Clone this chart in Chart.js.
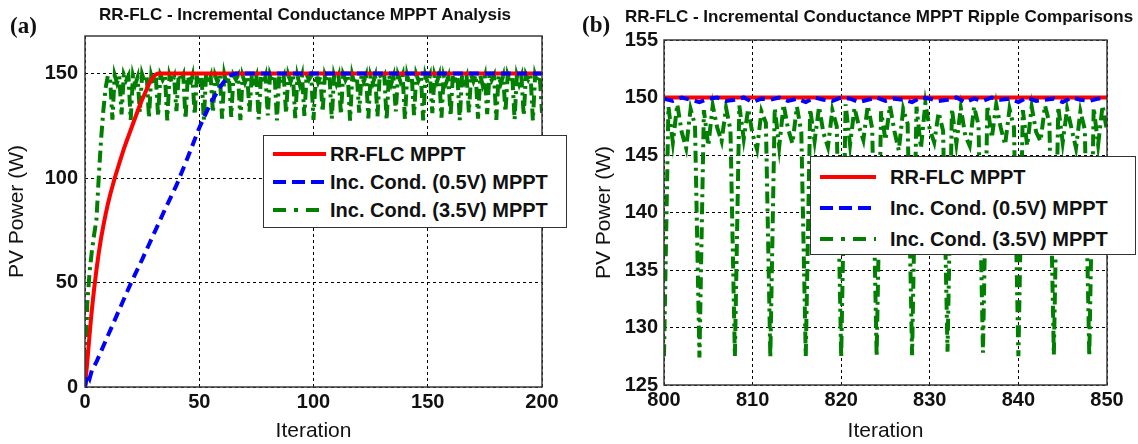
<!DOCTYPE html>
<html><head><meta charset="utf-8">
<script src="https://cdn.jsdelivr.net/npm/chart.js@4.4.0/dist/chart.umd.min.js"></script>
<style>
body{margin:0;background:#fff;width:1138px;height:444px;overflow:hidden;position:relative;font-family:"Liberation Sans",Arial,sans-serif;color:#111;}
canvas{position:absolute;top:0;}
.lbl{position:absolute;white-space:nowrap;line-height:24px;}
.panel{font-family:"Liberation Serif","Times New Roman",serif;font-weight:bold;font-size:23px;}
.ttl{font-weight:bold;font-size:17px;transform:translateX(-50%);}
.legend{position:absolute;background:#fff;border:1px solid #333;box-sizing:border-box;}
.legend svg{position:absolute;}
.legend span{position:absolute;white-space:nowrap;font-weight:bold;font-size:20px;line-height:24px;}
</style></head>
<body>
<canvas id="ca" width="570" height="444" style="left:0;width:570px;height:444px"></canvas>
<canvas id="cb" width="568" height="444" style="left:570px;width:568px;height:444px"></canvas>
<div class="lbl panel" style="left:10px;top:14px">(a)</div>
<div class="lbl ttl" style="left:305px;top:3px">RR-FLC - Incremental Conductance MPPT Analysis</div>
<div class="lbl panel" style="left:582px;top:13px">(b)</div>
<div class="lbl ttl" style="left:879px;top:5px">RR-FLC - Incremental Conductance MPPT Ripple Comparisons</div>
<div id="lga" class="legend" style="left:263px;top:135px;width:304px;height:93px"></div>
<div id="lgb" class="legend" style="left:810px;top:156px;width:326px;height:99px"></div>
<script>
// ---------- DATA ----------
const SERIES_NAMES = ['RR-FLC MPPT', 'Inc. Cond. (0.5V) MPPT', 'Inc. Cond. (3.5V) MPPT'];
const COLORS = ['#ff0000', '#0000ff', '#007f00'];

// Panel (a): iterations 0..200
const RED_A_ITER = [0,1,2,3,4,5,6,7,8,9,10,11,12,13,14,15,16,17,18,19,20,21,22,23,24,25,26,27,28,29,30,31,32,200];
const RED_A = [0,12,25,37,47,56,64,71,77,82.5,87.5,92,96,100,103.5,107,110.5,114,117,120,123,126,129,132,135,137.5,140,142.5,145,147,148.5,149.6,150,150];
const BLUE_A_ITER = [0,1,2,3,4,5,10,15,20,25,30,35,40,45,50,55,60,63,66,200];
const BLUE_A = [0,6,4,8,10,12,24.5,37,49.5,61,73,85,96.5,110,124,136,145,149,150,150];
// green (a): one value per iteration 0..200
const GREEN_A = [
 0,40,55,65,73,80,100,118,132,143,149,147.5,
 128,149.2,145.5,148.8, 130.5,149.5,146.8,149, 127.8,148.9,144.9,148.2, 131.5,149.6,146.2,149.3,
 128.8,149,145.1,148.6, 129.6,149.4,147,149.1, 127.6,149.1,145.6,148.4, 132,149.5,146.4,149.2,
 128.2,148.8,144.6,148.7, 130.2,149.3,146.9,149, 127.9,149.6,145.3,148.5, 131.2,149,146,149.4,
 128.5,149.4,144.8,148.3, 129.3,149.2,147.2,149.1, 127.7,148.9,145.7,148.8, 131.8,149.5,146.3,149,
 128.1,149.1,145,148.6, 130,149.6,146.7,149.3, 127.6,149,145.4,148.4, 131,149.3,146.1,149.2,
 128.7,148.8,144.7,148.9, 129.8,149.5,147.1,149, 127.9,149.2,145.8,148.5, 131.6,149.4,146.5,149.3,
 128.3,149,145.2,148.7, 130.4,149.6,146.9,149.1, 127.5,149.1,144.9,148.3, 131.3,149.3,146.2,149.2,
 128.6,148.9,145.5,148.8, 129.5,149.5,147,149, 127.8,149.2,145.1,148.6, 131.9,149.4,146.4,149.4,
 128.2,149,144.8,148.5, 130.1,149.6,146.6,149.1, 127.6,149.1,145.6,148.9, 131.1,149.3,146,149.2,
 128.9,148.8,145.3,148.4, 129.7,149.5,147.3,149, 127.7,149.2,145.9,148.7, 131.4,149.4,146.3,149.3,
 128.4,149,144.6,148.6, 130.6,149.6,146.8,149.1, 127.9,149.1,145.4,148.8, 131.7,149.3,146.1,149,
 128,148.9,145,148.5, 129.9,149.5,147.1,149.2, 127.6,149.2,145.7,148.9,
 131.2
];
const X_TICKS_A = [0, 50, 100, 150, 200];
const Y_TICKS_A = [0, 50, 100, 150];

// Panel (b): iterations 800..850
const RED_B_ITER = [800, 850];
const RED_B = [150, 150];
const BLUE_B_START = 800;   // one value per iteration
const BLUE_B = [
 149.9,149.7,150,149.8,149.6,149.9,150,149.7,149.8,150,
 149.6,149.9,149.8,150,149.7,149.9,149.6,150,149.8,149.7,
 150,149.9,149.6,149.8,150,149.7,149.9,149.8,149.6,150,
 149.9,149.7,149.8,150,149.6,149.9,149.7,150,149.8,149.9,
 149.6,150,149.7,149.8,149.9,149.6,150,149.8,149.7,149.9,
 150];
const GREEN_B_START = 800, GREEN_B_STEP = 0.5;  // one value per half iteration
const GREEN_B = [
 127.5,149.2,146.1,149.4,147.0,145.6,149.0,147.6,
 127.4,148.9,145.8,149.3,147.4,146.2,149.1,147.2,
 127.5,149.3,146.4,149.0,146.8,145.5,148.8,147.8,
 127.4,149.1,145.7,149.4,147.3,146.0,149.2,147.0,
 127.5,149.0,146.2,149.2,146.9,145.7,148.9,147.5,
 127.4,149.4,145.9,149.1,147.5,146.3,149.3,147.3,
 127.5,148.8,146.3,149.3,147.1,145.4,149.0,147.7,
 127.6,149.2,145.6,149.5,147.2,146.1,148.7,147.1,
 127.9,149.0,146.0,149.1,146.7,145.8,149.2,147.6,
 127.8,149.3,146.5,149.4,147.4,145.9,149.0,147.4,
 127.5,148.9,145.8,149.2,147.0,146.2,149.3,147.8,
 127.6,149.2,146.1,149.0,147.3,145.6,148.8,147.2,
 127.5,149.1,145.9,149.3,147.1
];
const X_TICKS_B = [800, 810, 820, 830, 840, 850];
const Y_TICKS_B = [125, 130, 135, 140, 145, 150, 155];

// ---------- STYLES ----------
const DASHES = [[], [10, 6], [12, 5, 3, 5]];
const LW = 4;
const FONT = '"Liberation Sans", Arial, sans-serif';

const boxPlugin = {
  id: 'box',
  afterDatasetsDraw(chart) {
    const {ctx, chartArea: a} = chart;
    ctx.save();
    ctx.strokeStyle = '#3a3a3a'; ctx.lineWidth = 1.5; ctx.setLineDash([]);
    ctx.strokeRect(a.left, a.top, a.right - a.left, a.bottom - a.top);
    ctx.restore();
  }
};

function ds(i, pts, order) {
  return { label: SERIES_NAMES[i], data: pts, borderColor: COLORS[i], backgroundColor: COLORS[i],
    borderWidth: LW, borderDash: DASHES[i], pointRadius: 0, tension: 0, fill: false, order: order };
}
function zip(xs, ys) { return ys.map((y, i) => ({x: xs[i], y: y})); }

function axis(min, max, tickVals, title, fitProp, fitVal, pad) {
  return {
    type: 'linear', min: min, max: max,
    afterBuildTicks(s) { s.ticks = tickVals.map(v => ({value: v})); },
    ticks: { font: {family: FONT, size: 20, weight: 'bold'}, color: '#111', padding: pad, maxRotation: 0, autoSkip: false },
    grid: { color: '#000', lineWidth: 1, drawTicks: false },
    border: { display: false, dash: [3, 3] },
    title: { display: true, text: title, font: {family: FONT, size: 21}, color: '#111', padding: 0 },
    afterFit(s) { s[fitProp] = fitVal; }
  };
}

function makeChart(id, datasets, xs, ys, padding) {
  return new Chart(document.getElementById(id), {
    type: 'line',
    data: { datasets: datasets },
    options: {
      responsive: false, animation: false, devicePixelRatio: 1,
      layout: { padding: padding.layout },
      plugins: { legend: {display: false}, tooltip: {enabled: false} },
      scales: { x: xs, y: ys }
    },
    plugins: [boxPlugin]
  });
}

// Chart (a)
makeChart('ca', [
  ds(1, zip(BLUE_A_ITER, BLUE_A), 0),
  ds(0, zip(RED_A_ITER, RED_A), 1),
  ds(2, GREEN_A.map((v, i) => ({x: i, y: v})), 2)
],
  axis(0, 200, X_TICKS_A, 'Iteration', 'height', 57, 3),
  axis(0, 168, Y_TICKS_A, 'PV Power (W)', 'width', 80, 7),
  { layout: {left: 5, right: 28, top: 36, bottom: 0} });

// Chart (b)
makeChart('cb', [
  ds(1, BLUE_B.map((v, i) => ({x: BLUE_B_START + i, y: v})), 0),
  ds(0, zip(RED_B_ITER, RED_B), 1),
  ds(2, GREEN_B.map((v, i) => ({x: GREEN_B_START + i * GREEN_B_STEP, y: v})), 2)
],
  axis(800, 850, X_TICKS_B, 'Iteration', 'height', 59, 3),
  axis(125, 155, Y_TICKS_B, 'PV Power (W)', 'width', 72, 6),
  { layout: {left: 22, right: 31, top: 40, bottom: 0} });

// ---------- LEGENDS ----------
function legend(id, rowsY, x1, x2, textX) {
  const box = document.getElementById(id);
  SERIES_NAMES.forEach((name, i) => {
    const svg = document.createElementNS('http://www.w3.org/2000/svg', 'svg');
    svg.setAttribute('width', x2 - x1); svg.setAttribute('height', 8);
    svg.style.left = x1 + 'px'; svg.style.top = (rowsY[i] - 4) + 'px';
    const ln = document.createElementNS('http://www.w3.org/2000/svg', 'line');
    ln.setAttribute('x1', 0); ln.setAttribute('x2', x2 - x1); ln.setAttribute('y1', 4); ln.setAttribute('y2', 4);
    ln.setAttribute('stroke', COLORS[i]); ln.setAttribute('stroke-width', LW);
    if (DASHES[i].length) ln.setAttribute('stroke-dasharray', (i === 1 ? [13, 6] : [13, 8, 4, 8]).join(' '));
    svg.appendChild(ln); box.appendChild(svg);
    const sp = document.createElement('span');
    sp.textContent = name; sp.style.left = textX + 'px'; sp.style.top = (rowsY[i] - 12) + 'px';
    box.appendChild(sp);
  });
}
legend('lga', [18, 46, 74], 9, 62, 66);
legend('lgb', [20, 51, 82], 9, 65, 79);
</script>
</body></html>
